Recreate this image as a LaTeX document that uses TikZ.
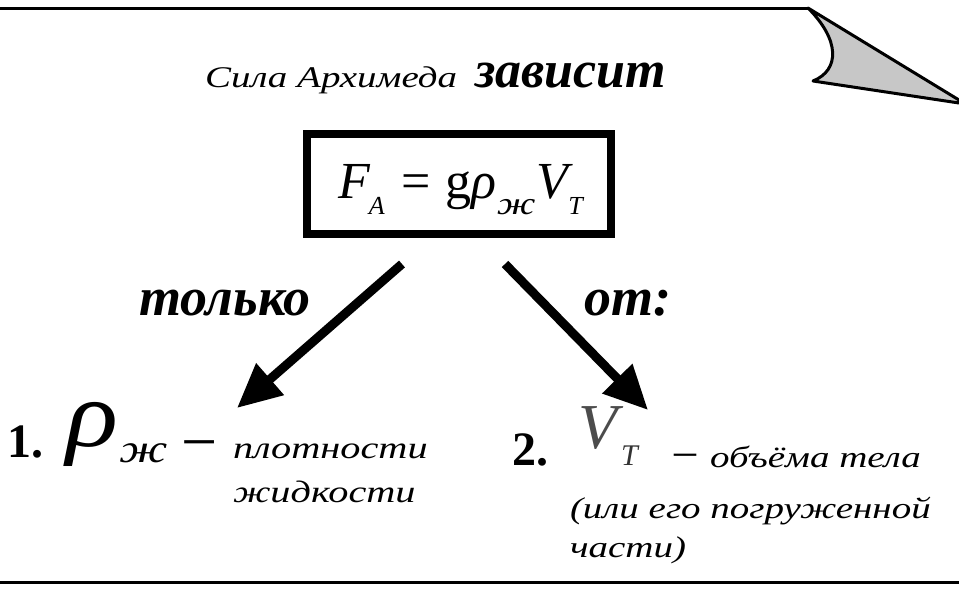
\documentclass[tikz,border=0pt]{standalone}
\usepackage{fontspec}
\setmainfont{Liberation Serif}
\newfontfamily\tms{Liberation Serif}
\newfontfamily\wide{Liberation Serif}[FakeStretch=1.3]
\newfontfamily\semiwide{Liberation Serif}[FakeStretch=1.15]
\usetikzlibrary{arrows.meta}
\tikzset{
  txt/.style={anchor=base west, inner sep=0pt, outer sep=0pt},
  thinit/.style={txt, font=\wide\itshape},
  boldit/.style={txt, font=\tms\bfseries\itshape},
  bigarrow/.style={line width=9pt, -{Triangle[length=44pt,width=40pt]}},
  frame/.style={line width=3pt}
}
\newcommand{\fs}[1]{\fontsize{#1}{#1}\selectfont}
\begin{document}
\begin{tikzpicture}[x=1pt,y=-1pt]
\useasboundingbox (0,0) rectangle (959,595);
% page frame
\coordinate (tl) at (0,8);
\coordinate (tr) at (808,8);
\coordinate (fold) at (959,100);
\coordinate (bl) at (0,582);
\coordinate (br) at (959,582);
\draw[frame] (tl) -- (tr);
\draw[frame] (bl) -- (br);
\draw[frame, fill=black!22, line join=round] (tr) -- (fold) -- (959,103) -- (813,81)
  .. controls (840,70) and (840,40) .. (tr) -- cycle;
% title
\node[thinit, font=\wide\itshape\fs{30}] (t1) at (205,87) {Сила Архимеда};
\node[boldit, font=\tms\bfseries\itshape\fs{52}] (t2) at (475,87) {зависит};
% formula box
\node[draw, line width=8.5pt, minimum width=304pt, minimum height=100pt, inner sep=0pt] (box) at (459,184) {};
\node[txt] (formula) at (338,198) {\fs{52}\tms\itshape F\kern-1pt\raisebox{-16pt}{\fs{26}A}\kern17pt\upshape=\kern15pt g\itshape ρ\kern0pt\raisebox{-16pt}{\wide\fs{32}ж}\kern1pt V\kern0pt\raisebox{-16pt}{\fs{26}T}};
% arrows
\coordinate (la) at (402,264);
\coordinate (lb) at (237,408);
\coordinate (ra) at (505,264);
\coordinate (rb) at (648,410);
\draw[bigarrow] (la) -- (lb);
\draw[bigarrow] (ra) -- (rb);
\node[boldit, font=\tms\bfseries\itshape\fs{54}] (only) at (139,315) {только};
\node[boldit, font=\tms\bfseries\itshape\fs{54}] (from) at (584,315) {от:};
% item 1
\node[txt, font=\tms\bfseries\fs{48}] (n1) at (8,457) {1.};
\node[txt, font=\semiwide\itshape\fs{94}] (rho) at (66,446) {ρ};
\node[txt, font=\wide\itshape\fs{40}] (zh) at (119,462) {ж};
\node[txt, font=\tms\fs{64}] (d1) at (181,463) {−};
\node[thinit, font=\wide\itshape\fs{31}] (p1) at (233,458) {плотности};
\node[thinit, font=\wide\itshape\fs{31}] (p2) at (233,502) {жидкости};
% item 2
\node[txt, font=\tms\bfseries\fs{48}] (n2) at (512,465) {2.};
\node[txt, font=\tms\itshape\fs{64}, text=black!70] (vv) at (578,448) {V};
\node[txt, font=\tms\itshape\fs{30}, text=black!80] (tt) at (621,465) {T};
\node[txt, font=\tms\fs{44}] (d2) at (674,465) {–};
\node[thinit, font=\wide\itshape\fs{30}] (q1) at (710,467) {объёма тела};
\node[thinit, font=\wide\itshape\fs{30}] (q2) at (570,518) {(или его погруженной};
\node[thinit, font=\wide\itshape\fs{30}] (q3) at (570,557) {части)};
\end{tikzpicture}
\end{document}
